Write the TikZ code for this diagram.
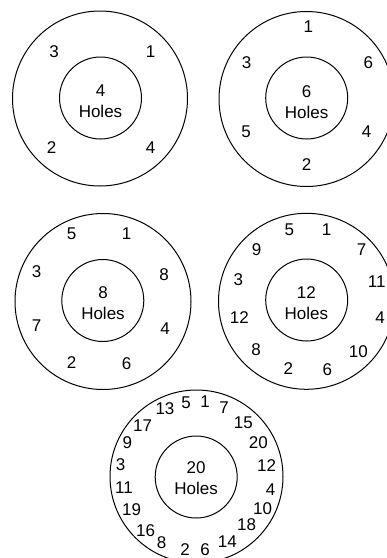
\documentclass[tikz,border=0pt]{standalone}
\usepackage{fontspec}
\setmainfont{Liberation Sans}
\begin{document}
\begin{tikzpicture}[x=1pt,y=-1pt,
  ring/.style={draw=black,line width=1pt},
  lbl/.style={inner sep=0pt,anchor=center,font=\fontsize{17}{21}\selectfont},
  ctr/.style={inner sep=0pt,anchor=center,align=center,font=\fontsize{17}{21}\selectfont}]
\useasboundingbox (0,0) rectangle (387,558);
\begin{scope}
\clip (0,0) rectangle (387,558);
% circle 1
\draw[ring] (100,98.5) circle[radius=87.5];
\draw[ring] (100.5,98) circle[radius=41];
\node[ctr] (c1) at (100.5,101.5) {4\\Holes};
\node[lbl] (a1) at (150.7,52) {1};
\node[lbl] (a3) at (54,52) {3};
\node[lbl] (a2) at (51.7,148) {2};
\node[lbl] (a4) at (150.7,148) {4};
% circle 2
\draw[ring] (306.5,99) circle[radius=87.5];
\draw[ring] (306.7,98) circle[radius=41];
\node[ctr] (c2) at (306.7,102) {6\\Holes};
\node[lbl] (b1) at (308.3,26.7) {1};
\node[lbl] (b6) at (368.3,62.3) {6};
\node[lbl] (b3) at (246.7,62.3) {3};
\node[lbl] (b5) at (246,131.7) {5};
\node[lbl] (b4) at (366.7,131.7) {4};
\node[lbl] (b2) at (306.7,165) {2};
% circle 3
\draw[ring] (103,301.5) circle[radius=88];
\draw[ring] (102.8,300.5) circle[radius=41];
\node[ctr] (c3) at (103,303.5) {8\\Holes};
\node[lbl] (d5) at (71.7,233.3) {5};
\node[lbl] (d1) at (126.7,233.3) {1};
\node[lbl] (d3) at (36.7,271.7) {3};
\node[lbl] (d8) at (164,275) {8};
\node[lbl] (d7) at (36.7,326) {7};
\node[lbl] (d4) at (165,328.3) {4};
\node[lbl] (d2) at (71.7,362.7) {2};
\node[lbl] (d6) at (126.7,364) {6};
% circle 4
\draw[ring] (306.5,301.3) circle[radius=88];
\draw[ring] (306.7,300) circle[radius=41];
\node[ctr] (c4) at (306.3,303.5) {12\\Holes};
\node[lbl] (e5) at (289.3,229.3) {5};
\node[lbl] (e1) at (326.7,229.3) {1};
\node[lbl] (e9) at (256.7,250) {9};
\node[lbl] (e7) at (361.7,250) {7};
\node[lbl] (e3) at (238.3,280) {3};
\node[lbl] (e11) at (376.7,281.7) {11};
\node[lbl] (e12) at (239.3,317.3) {12};
\node[lbl] (e4) at (380,317.3) {4};
\node[lbl] (e8) at (256,350) {8};
\node[lbl] (e10) at (358.3,351.7) {10};
\node[lbl] (e2) at (288.3,368.3) {2};
\node[lbl] (e6) at (327.3,370) {6};
% circle 5
\draw[ring] (196.5,476.5) circle[radius=86.5];
\draw[ring] (196.2,477) circle[radius=41];
\node[ctr] (c5) at (196.2,478) {20\\Holes};
\node[lbl] (f13) at (165,409) {13};
\node[lbl] (f5) at (186,402.3) {5};
\node[lbl] (f1) at (205,401.7) {1};
\node[lbl] (f7) at (224,407.3) {7};
\node[lbl] (f17) at (142.7,426) {17};
\node[lbl] (f15) at (243.3,422.3) {15};
\node[lbl] (f9) at (127.3,442.7) {9};
\node[lbl] (f20) at (258.3,442.7) {20};
\node[lbl] (f3) at (120.7,464.3) {3};
\node[lbl] (f12) at (266.7,466) {12};
\node[lbl] (f11) at (124,487.3) {11};
\node[lbl] (f4) at (270.7,490) {4};
\node[lbl] (f19) at (131.7,510) {19};
\node[lbl] (f10) at (262.7,508.3) {10};
\node[lbl] (f16) at (145.7,530.7) {16};
\node[lbl] (f18) at (246.7,525) {18};
\node[lbl] (f8) at (161.7,542.3) {8};
\node[lbl] (f14) at (227.3,541.7) {14};
\node[lbl] (f2) at (185,550) {2};
\node[lbl] (f6) at (205,550) {6};
\end{scope}
\end{tikzpicture}
\end{document}
